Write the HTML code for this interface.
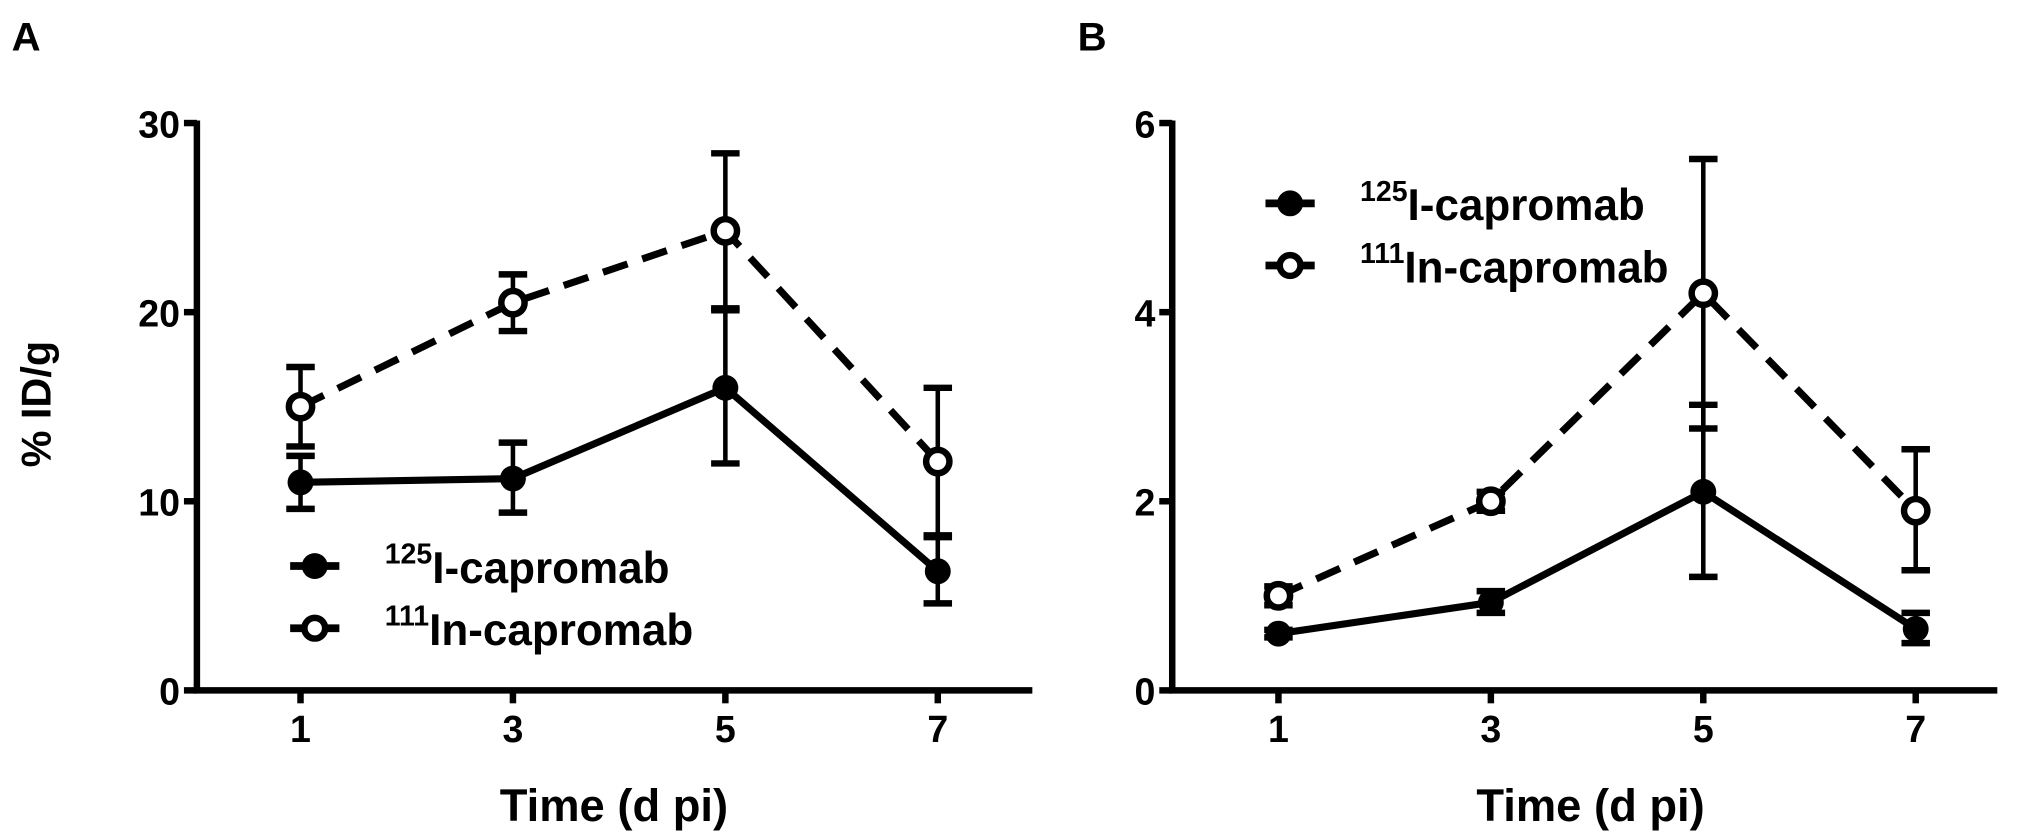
<!DOCTYPE html>
<html><head><meta charset="utf-8"><style>
html,body{margin:0;padding:0;background:#fff;}
svg{display:block;font-family:"Liberation Sans",Arial,sans-serif;font-weight:bold;}
</style></head><body>
<svg id="chart" width="2031" height="837" viewBox="0 0 1568 646.2" xmlns="http://www.w3.org/2000/svg">
<g id="root"></g>
</svg>
<script>
const days = [1, 3, 5, 7];
const aIodine = [11.0, 11.2, 16.0, 6.3];
const aIodineLo = [9.6, 9.4, 12.0, 4.6];
const aIodineHi = [12.4, 13.1, 20.1, 8.1];
const aIndium = [15.0, 20.5, 24.3, 12.1];
const aIndiumLo = [12.9, 19.0, 20.2, 8.2];
const aIndiumHi = [17.1, 22.0, 28.4, 16.0];
const bIodine = [0.6, 0.93, 2.1, 0.65];
const bIodineLo = [0.56, 0.82, 1.2, 0.5];
const bIodineHi = [0.64, 1.05, 3.02, 0.82];
const bIndium = [1.0, 2.0, 4.2, 1.9];
const bIndiumLo = [0.9, 1.9, 2.77, 1.27];
const bIndiumHi = [1.1, 2.1, 5.62, 2.55];
const aTicks = [0, 10, 20, 30];
const bTicks = [0, 2, 4, 6];
const xTicks = [1, 3, 5, 7];

const NS = "http://www.w3.org/2000/svg";
const root = document.getElementById('root');
function mk(tag, attrs, parent, text) {
  const e = document.createElementNS(NS, tag);
  for (const k in attrs) e.setAttribute(k, attrs[k]);
  if (text !== undefined) e.textContent = text;
  (parent || root).appendChild(e);
  return e;
}

function panel(cfg) {
  const g = mk('g', {});
  
  
  const X = t => cfg.x0 + (t - 1) * 82;
  const Y = v => 533 - v * cfg.ppu;
  const ya = mk('line', {x1: cfg.ax, y1: 93, x2: cfg.ax, y2: 535, stroke: '#000', 'stroke-width': 5}, g);
  
  
  const xa = mk('line', {x1: cfg.ax - 2.5, y1: 533, x2: cfg.axEnd, y2: 533, stroke: '#000', 'stroke-width': 5}, g);
  
  
  cfg.yTicks.forEach(v => {
    mk('line', {x1: cfg.ax - 10, y1: Y(v), x2: cfg.ax, y2: Y(v), stroke: '#000', 'stroke-width': 5}, g);
    const t = mk('text', {x: cfg.ax - 13, y: Y(v) + 11, 'text-anchor': 'end', 'font-size': 29}, g, String(v));
    
    
  });
  xTicks.forEach(d => {
    mk('line', {x1: X(d), y1: 533, x2: X(d), y2: 543, stroke: '#000', 'stroke-width': 5}, g);
    const t = mk('text', {x: X(d), y: 573, 'text-anchor': 'middle', 'font-size': 29}, g, String(d));
    
    
  });
  const xt = mk('text', {x: cfg.titleX, y: 634, 'text-anchor': 'middle', 'font-size': 35}, g, 'Time (d pi)');
  
  
  const pl = mk('text', {x: cfg.letterX, y: 39, 'font-size': 31}, g, cfg.letter);
  
  

  function series(vals, lo, hi, dashed, open, nm) {
    const sg = mk('g', {}, g);
    
    
    days.forEach((d, i) => {
      mk('line', {x1: X(d), y1: Y(lo[i]), x2: X(d), y2: Y(hi[i]), stroke: '#000', 'stroke-width': 3.5}, sg);
      [lo[i], hi[i]].forEach(v => mk('line', {x1: X(d) - 11, y1: Y(v), x2: X(d) + 11, y2: Y(v), stroke: '#000', 'stroke-width': 5}, sg));
    });
    const pts = days.map((d, i) => X(d) + ',' + Y(vals[i])).join(' ');
    const ln = mk('polyline', {points: pts, fill: 'none', stroke: '#000', 'stroke-width': 5.5, 'stroke-dasharray': dashed ? '20 12' : 'none'}, sg);
    
    
    days.forEach((d, i) => {
      const c = mk('circle', {cx: X(d), cy: Y(vals[i]), r: open ? 9 : 10, fill: open ? '#fff' : '#000', stroke: '#000', 'stroke-width': open ? 5 : 0}, sg);
      
      
    });
  }
  series(cfg.iod, cfg.iodLo, cfg.iodHi, false, false, 'iodine-series');
  series(cfg.ind, cfg.indLo, cfg.indHi, true, true, 'indium-series');

  const lg = mk('g', {}, g);
  
  
  [[cfg.legY, false, '125', 'I-capromab', 'legend-entry-iodine'], [cfg.legY + 48, true, '111', 'In-capromab', 'legend-entry-indium']].forEach(e => {
    const eg = mk('g', {}, lg);
    
    
    mk('line', {x1: cfg.legX, y1: e[0], x2: cfg.legX + 38, y2: e[0], stroke: '#000', 'stroke-width': 6}, eg);
    mk('circle', {cx: cfg.legX + 19, cy: e[0], r: e[1] ? 8 : 10, fill: e[1] ? '#fff' : '#000', stroke: '#000', 'stroke-width': e[1] ? 5 : 0}, eg);
    const t = mk('text', {x: cfg.legX + 73, y: e[0] + 13, 'font-size': 34}, eg);
    mk('tspan', {'font-size': 22, dy: -15}, t, e[2]);
    mk('tspan', {dy: 15}, t, e[3]);
  });
}

panel({name: 'panel-a', letter: 'A', letterX: 9, ax: 152, axEnd: 797, x0: 232, ppu: 438 / 30, yTicks: aTicks,
  titleX: 474, iod: aIodine, iodLo: aIodineLo, iodHi: aIodineHi, ind: aIndium, indLo: aIndiumLo, indHi: aIndiumHi,
  legX: 224, legY: 437});
panel({name: 'panel-b', letter: 'B', letterX: 832, ax: 905, axEnd: 1542, x0: 987, ppu: 438 / 6, yTicks: bTicks,
  titleX: 1228, iod: bIodine, iodLo: bIodineLo, iodHi: bIodineHi, ind: bIndium, indLo: bIndiumLo, indHi: bIndiumHi,
  legX: 977, legY: 157});

const yt = mk('text', {x: 0, y: 0, 'text-anchor': 'middle', 'font-size': 32, transform: 'translate(39,312) rotate(-90)'}, root, '% ID/g');


</script>
</body></html>
